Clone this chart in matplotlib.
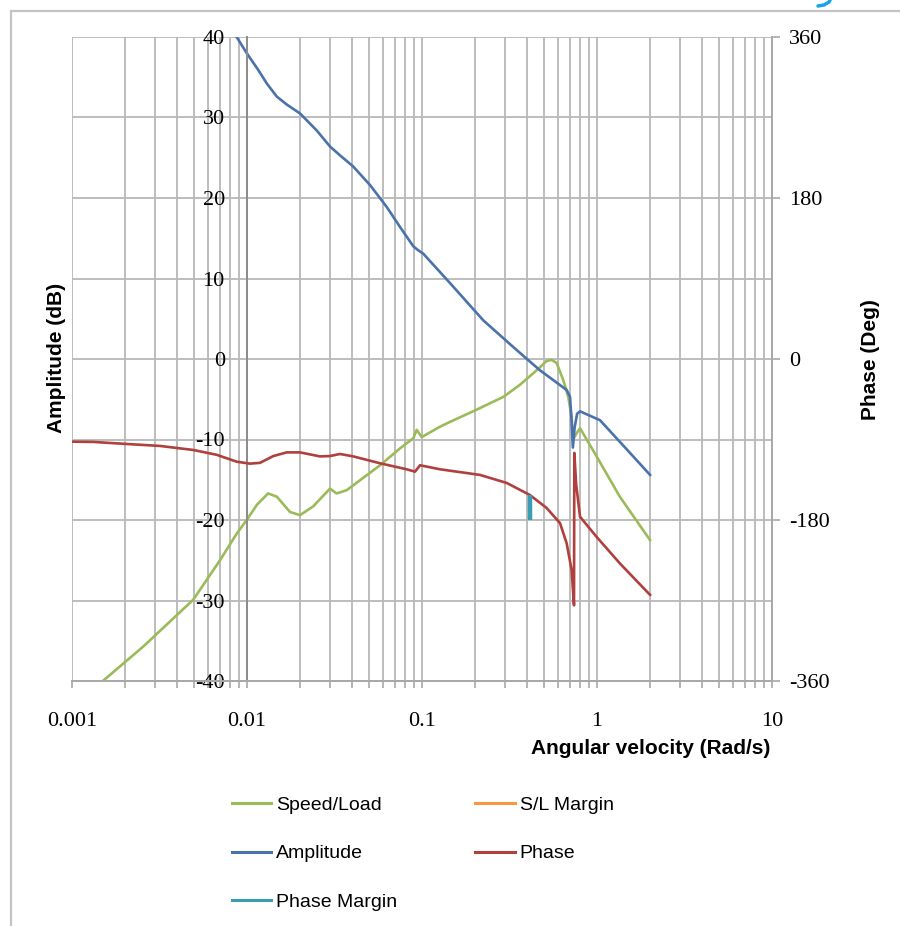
import matplotlib.pyplot as plt
from matplotlib.patches import Rectangle
from matplotlib.ticker import LogLocator, MultipleLocator, FuncFormatter, NullFormatter
from matplotlib.lines import Line2D

plt.rcParams['axes.unicode_minus'] = False

# Speed/Load (dB, left axis)
sl_w = [0.0015, 0.00256, 0.00493, 0.00701, 0.00873, 0.00996, 0.0114, 0.0132, 0.0148,
        0.0176, 0.0201, 0.0239, 0.0298, 0.0325, 0.0371, 0.0576, 0.0749, 0.0892, 0.0933,
        0.0996, 0.127, 0.145, 0.205, 0.292, 0.363, 0.452, 0.515, 0.551, 0.588, 0.641,
        0.685, 0.716, 0.73, 0.766, 0.8, 0.995, 1.35, 2.01]
sl_db = [-40, -35.7, -29.9, -25.0, -21.7, -20.0, -18.1, -16.7, -17.1,
         -19.0, -19.4, -18.3, -16.1, -16.7, -16.3, -13.2, -11.1, -9.85, -8.8,
         -9.7, -8.4, -7.8, -6.3, -4.7, -3.2, -1.4, -0.25, -0.1, -0.5, -2.6,
         -4.7, -7.2, -10.0, -9.2, -8.6, -12.1, -17.1, -22.5]

# S/L Margin (nothing visible on the chart)
slm_w = []
slm_db = []

# Amplitude (dB, left axis)
amp_w = [0.00873, 0.00996, 0.0116, 0.0130, 0.0148, 0.0169, 0.0201, 0.025, 0.0298, 0.034,
         0.0405, 0.0505, 0.0628, 0.0749, 0.0892, 0.0952, 0.1015, 0.145, 0.224, 0.348,
         0.472, 0.671, 0.701, 0.715, 0.728, 0.745, 0.77, 0.8, 1.04, 1.61, 2.01]
amp_db = [40.0, 38.0, 35.9, 34.2, 32.6, 31.6, 30.5, 28.4, 26.4, 25.3,
          23.9, 21.6, 18.9, 16.4, 14.0, 13.5, 13.1, 9.4, 4.8, 1.1,
          -1.4, -3.85, -4.7, -7.5, -11.0, -8.5, -6.8, -6.5, -7.6, -12.1, -14.4]

# Phase (deg, right axis)
ph_w = [0.001, 0.00132, 0.00205, 0.00318, 0.00493, 0.00671, 0.00873, 0.0104, 0.01186,
        0.01414, 0.01686, 0.0201, 0.0261, 0.0298, 0.034, 0.0405, 0.0576, 0.0817, 0.0912,
        0.0974, 0.1267, 0.2145, 0.305, 0.414, 0.515, 0.615, 0.671, 0.716, 0.739, 0.742,
        0.76, 0.8, 0.995, 1.352, 2.01]
ph_deg = [-92.4, -92.7, -95.0, -97.2, -101.7, -107.1, -114.8, -117.0, -116.1,
          -108.5, -104.4, -104.4, -108.9, -108.5, -106.2, -108.9, -116.6, -123.3, -126.0,
          -118.8, -123.3, -129.6, -138.6, -152.1, -166.5, -183.6, -206.1, -235.8, -275.4, -105.0,
          -140.0, -176.4, -198.9, -228.6, -263.7]

# Phase Margin (deg, right axis)
pm_w = [0.414, 0.414]
pm_deg = [-180, -152]

c_green = '#9BBB59'
c_orange = '#F79646'
c_blue = '#4A72AC'
c_red = '#B0403E'
c_teal = '#3A9DB5'
grid_c = '#B8B8B8'

sans = ['Liberation Sans Narrow', 'Liberation Sans', 'DejaVu Sans']
serif = ['Liberation Serif', 'DejaVu Serif']

fig = plt.figure(figsize=(9, 9.26), dpi=100)
ax = fig.add_axes([72 / 900, 1 - 681 / 926, 700 / 900, 644 / 926])
ax2 = ax.twinx()

ax.set_xscale('log')
ax.set_xlim(0.001, 10)
ax.set_ylim(-40, 40)
ax2.set_ylim(-360, 360)

ax.xaxis.set_major_locator(LogLocator(base=10))
ax.xaxis.set_minor_locator(LogLocator(base=10, subs=range(2, 10)))
ax.xaxis.set_major_formatter(FuncFormatter(lambda v, p: '{:g}'.format(v)))
ax.xaxis.set_minor_formatter(NullFormatter())
ax.yaxis.set_major_locator(MultipleLocator(10))
ax2.yaxis.set_major_locator(MultipleLocator(180))

ax.grid(True, which='both', axis='x', color=grid_c, lw=1.3)
ax.grid(True, which='major', axis='y', color=grid_c, lw=1.3)
ax.set_axisbelow(True)

lw = 1.9
ax.plot(sl_w, sl_db, color=c_green, lw=lw)
ax.plot(slm_w, slm_db, color=c_orange, lw=lw)
ax.plot(amp_w, amp_db, color=c_blue, lw=lw)
ax2.plot(ph_w, ph_deg, color=c_red, lw=lw)
ax2.plot(pm_w, pm_deg, color=c_teal, lw=3.2, solid_capstyle='butt')

# spines: left axis crosses at 0.01
for s in ['top', 'right']:
    ax.spines[s].set_visible(False)
ax.spines['left'].set_position(('data', 0.01))
ax.spines['left'].set_color('#8C8C8C')
ax.spines['left'].set_linewidth(1.4)
ax.spines['bottom'].set_color('#A8A8A8')
ax.spines['bottom'].set_linewidth(1.4)
for s in ['top', 'left', 'bottom']:
    ax2.spines[s].set_visible(False)
ax2.spines['right'].set_color('#A8A8A8')
ax2.spines['right'].set_linewidth(1.4)

ax.tick_params(axis='y', length=0, pad=16, labelsize=16)
ax.tick_params(axis='x', which='both', direction='out', length=5, width=1.2,
               color='#A8A8A8', pad=17, labelsize=16)
ax2.tick_params(axis='y', direction='out', length=6, width=1.2, color='#A8A8A8',
                pad=6, labelsize=16)
for lab in ax.get_xticklabels() + ax.get_yticklabels() + ax2.get_yticklabels():
    lab.set_family(serif)

fig.text(57 / 900, 1 - 358 / 926, 'Amplitude (dB)', rotation=90, ha='center', va='center',
         fontsize=15, fontweight='bold', family=sans)
fig.text(871 / 900, 1 - 360 / 926, 'Phase (Deg)', rotation=90, ha='center', va='center',
         fontsize=15, fontweight='bold', family=sans)
fig.text(651 / 900, 1 - 749 / 926, 'Angular velocity (Rad/s)', ha='center', va='center',
         fontsize=15, fontweight='bold', family=sans)

handles = [Line2D([], [], color=c_green, lw=2.2), Line2D([], [], color=c_blue, lw=2.2),
           Line2D([], [], color=c_teal, lw=2.2), Line2D([], [], color=c_orange, lw=2.2),
           Line2D([], [], color=c_red, lw=2.2)]
labels = ['Speed/Load', 'Amplitude', 'Phase Margin', 'S/L Margin', 'Phase']
fig.legend(handles, labels, loc='upper left', bbox_to_anchor=(214 / 900, 1 - 779 / 926),
           ncol=2, frameon=False, prop={'family': sans, 'size': 14},
           handlelength=2.05, handletextpad=0.25, labelspacing=1.58, columnspacing=4.0)

# outer chart border
fig.add_artist(Rectangle((11 / 900, -0.1), 2, 1.1 - 11 / 926, transform=fig.transFigure,
                         fill=False, edgecolor='#C4C4C4', lw=1.6))
# small blue stroke cut by the top edge
fig.add_artist(Line2D([831 / 900, 829 / 900, 824 / 900, 818 / 900],
                      [1.002, 1 - 2 / 926, 1 - 5 / 926, 1 - 6 / 926],
                      transform=fig.transFigure, color='#1AA3E8', lw=2.5,
                      solid_capstyle='round'))

fig.savefig('out.png', dpi=100)
